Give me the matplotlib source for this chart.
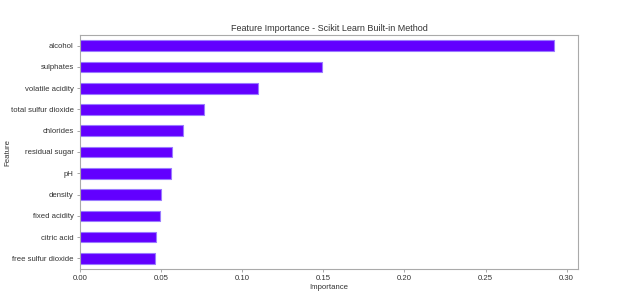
import matplotlib
matplotlib.use("Agg")
import matplotlib.pyplot as plt

features = ["free sulfur dioxide", "citric acid", "fixed acidity", "density", "pH",
            "residual sugar", "chlorides", "total sulfur dioxide", "volatile acidity",
            "sulphates", "alcohol"]
importance = [0.0462, 0.0467, 0.0493, 0.0499, 0.0561, 0.0567, 0.0633, 0.0767,
              0.1095, 0.149, 0.2924]

plt.rcParams['font.family'] = ['Liberation Sans', 'DejaVu Sans']
fig = plt.figure(figsize=(6.4, 2.97), dpi=100)
ax = fig.add_axes([80/640, 1-269/297, (578-80)/640, (269-35)/297])

ax.barh(range(len(features)), importance, height=0.5, color="#6200ff",
        edgecolor="#9a7aff", linewidth=0.8)
ax.set_yticks(range(len(features)))
ax.set_yticklabels(features)
ax.set_ylim(-0.5, len(features) - 0.5)
ax.set_xlim(0, 0.307)
ax.set_xticks([0.0, 0.05, 0.10, 0.15, 0.20, 0.25, 0.30])
ax.set_xticklabels(["0.00", "0.05", "0.10", "0.15", "0.20", "0.25", "0.30"])

txtc = "#333333"
ax.tick_params(labelsize=5.6, colors="#999999", labelcolor=txtc, length=2.5, width=0.6, pad=2)
for s in ax.spines.values():
    s.set_color("#aaaaaa")
    s.set_linewidth(0.8)
ax.set_xlabel("Importance", fontsize=5.6, color=txtc, labelpad=1)
ax.set_ylabel("Feature", fontsize=5.6, color=txtc)
ax.yaxis.set_label_coords(-0.138, 0.5)
ax.set_title("Feature Importance - Scikit Learn Built-in Method", fontsize=6.5, color=txtc, pad=3)

fig.savefig("out.png", dpi=100)
